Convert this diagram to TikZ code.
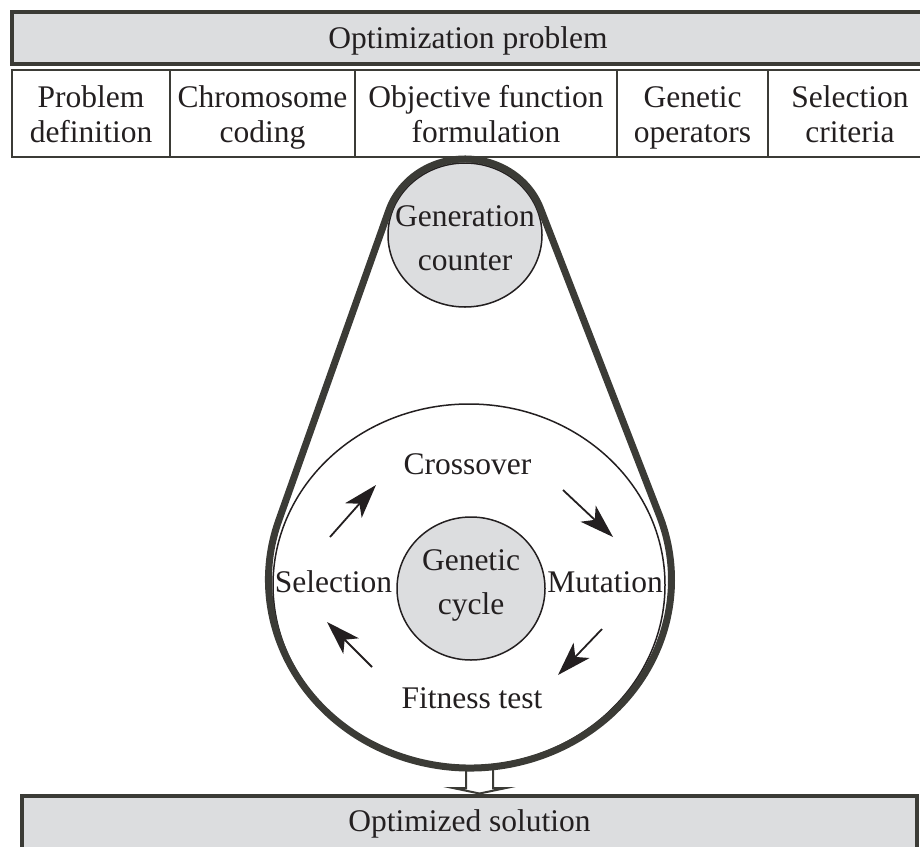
\documentclass[tikz,border=0pt]{standalone}
\usepackage{fontspec}
\setmainfont{Liberation Serif}
\usetikzlibrary{arrows.meta,shapes.geometric}

\definecolor{barfill}{HTML}{DCDDDF}
\definecolor{edge}{HTML}{3B3B36}
\definecolor{ink}{HTML}{231F20}

\newcommand\tallline{\rule{0pt}{32.5pt}}

\tikzset{
  txt/.style={font=\fontsize{31.5}{35}\selectfont, text=ink, align=center, inner sep=0pt},
  bar/.style={txt, draw=edge, line width=4pt, fill=barfill, minimum height=52pt},
  topic/.style={txt, draw=edge, line width=2pt, minimum height=87pt,
    execute at end node={\rule[-10.5pt]{0pt}{10.5pt}}},
  disc/.style={ellipse, draw=ink, line width=1.5pt, fill=barfill, inner sep=0pt},
  disctxt/.style={txt, font=\fontsize{31.5}{44}\selectfont},
  flow/.style={draw=ink, line width=1.8pt, -{Stealth[length=34pt,width=22pt,inset=9pt]}},
}

\begin{document}
\begin{tikzpicture}[x=1pt,y=-1pt]
\useasboundingbox (0,0) rectangle (920,846);

% Optimization problem bar
\node[bar, minimum width=912pt] (opt) at (468,38) {\rule{0pt}{27pt}Optimization problem};

% Topic boxes
\node[topic, minimum width=158pt] (pdef) at (91,113.5) {\tallline Problem\\definition};
\node[topic, minimum width=185pt] (coding) at (262.5,113.5) {\tallline Chromosome\\coding};
\node[topic, minimum width=262pt] (objfun) at (486,113.5) {\tallline Objective function\\formulation};
\node[topic, minimum width=151pt] (genops) at (692.5,113.5) {\tallline Genetic\\operators};
\node[topic, minimum width=164pt] (selcrit) at (850,113.5) {\tallline Selection\\criteria};

% Loop and counter
\node[ellipse, draw=ink, line width=1.5pt, minimum width=392pt, minimum height=362pt] (evo) at (469,585) {};
\node[disc, minimum width=154pt, minimum height=144pt] (gen) at (465,235) {};
\node[disctxt] (gentxt) at (465,238) {Generation\\counter};
\node[disc, minimum width=148pt, minimum height=143pt] (cycle) at (471,588.5) {};
\node[disctxt] (cyctxt) at (471,585.5) {Genetic\\cycle};

% Output arrow
\draw[edge, line width=2pt] (466,770) -- (466,788) -- (453,788) -- (479.5,793.5)
  -- (506,788) -- (493,788) -- (493,770);

% Belt round counter and loop
\draw[edge, line width=7pt, line join=round]
  (278.76,520.42) arc[start angle=161.65, end angle=379.91, x radius=201.5pt, y radius=188.3pt]
  -- (540.45,208.46) arc[start angle=19.91, end angle=161.65, x radius=80.25pt, y radius=75pt]
  -- cycle;

% Steps of the cycle
\node[txt, anchor=base] (cross) at (467.5,474) {Crossover};
\node[txt, anchor=base] (mut) at (605,592) {Mutation};
\node[txt, anchor=base] (fit) at (472,708) {Fitness test};
\node[txt, anchor=base] (sel) at (333.5,592) {Selection};

\coordinate (sel-out) at (330,537);
\coordinate (cross-in) at (376,485);
\coordinate (cross-out) at (563,490);
\coordinate (mut-in) at (613,537);
\coordinate (mut-out) at (602,629);
\coordinate (fit-in) at (558,675);
\coordinate (fit-out) at (372,667);
\coordinate (sel-in) at (327,622);

\draw[flow] (sel-out) -- (cross-in);
\draw[flow] (cross-out) -- (mut-in);
\draw[flow] (mut-out) -- (fit-in);
\draw[flow] (fit-out) -- (sel-in);

% Optimized solution bar
\node[bar, minimum width=895pt, minimum height=56pt] (sol) at (469.5,824) {Optimized solution};

\end{tikzpicture}
\end{document}
